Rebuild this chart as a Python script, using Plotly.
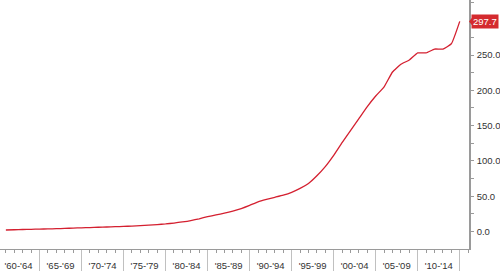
import plotly.graph_objects as go

years = list(range(1961, 2016))
values = [2.1, 2.5, 2.8, 3.1, 3.4, 3.7, 4.0, 4.4, 4.8, 5.2,
          5.6, 6.0, 6.4, 6.8, 7.2, 7.7, 8.3, 9.0, 9.8, 10.7,
          12.0, 13.6, 15.5, 18.0, 21.0, 23.5, 26.0, 29.0, 32.5, 37.0,
          42.0, 45.5, 48.5, 51.5, 55.5, 61.0, 68.0, 79.0, 92.0, 108.0,
          126.0, 143.0, 160.0, 177.0, 192.0, 205.0, 226.0, 237.0, 243.0, 253.0,
          253.0, 258.5, 258.5, 266.0, 297.7]

group_starts = list(range(1960, 2015, 5))
group_labels = ["'60-'64", "'65-'69", "'70-'74", "'75-'79", "'80-'84", "'85-'89",
                "'90-'94", "'95-'99", "'00-'04", "'05-'09", "'10-'14"]
y_ticks = [0, 50, 100, 150, 200, 250]

RED = "#d42030"
LABEL_RED = "#d42a2e"
GRAY = "#9a9a9a"
FONT = dict(family="Liberation Sans, Arial, sans-serif", size=9.5, color="#333333")

fig = go.Figure()
fig.add_trace(go.Scatter(x=years, y=values, mode="lines",
                         line=dict(color=RED, width=1.3, shape="spline", smoothing=0.4),
                         showlegend=False, hoverinfo="skip"))
# invisible trace to activate xaxis2 (group separators)
fig.add_trace(go.Scatter(x=[years[0]], y=[values[0]], xaxis="x2", mode="lines",
                         line=dict(width=0), showlegend=False, hoverinfo="skip"))

xr = [1960.3, 2016.1]
fig.update_layout(
    width=500, height=275,
    margin=dict(l=0, r=29, t=0, b=26),
    paper_bgcolor="white", plot_bgcolor="white",
    font=FONT,
    xaxis=dict(range=xr, showgrid=False, zeroline=False,
               showline=True, linecolor=GRAY, linewidth=1.2,
               tickmode="array", tickvals=[s + 2.5 for s in group_starts],
               ticktext=group_labels, ticks="", ticklabelstandoff=7,
               tickfont=FONT,
               minor=dict(ticks="outside", dtick=1, tick0=1960, ticklen=3,
                          tickcolor=GRAY, tickwidth=1, showgrid=False)),
    xaxis2=dict(range=xr, overlaying="x", side="bottom", anchor="y",
                showgrid=False, zeroline=False, showline=False,
                tickmode="array", tickvals=group_starts + [2015],
                showticklabels=False, ticks="outside", ticklen=21,
                tickcolor="#c0c0c0", tickwidth=1),
    yaxis=dict(range=[-24.8, 328], side="right", showgrid=False, zeroline=False,
               showline=True, linecolor=GRAY, linewidth=1.5,
               tickmode="array", tickvals=y_ticks, tickformat=".1f",
               ticks="outside", ticklen=3, tickcolor=GRAY, tickfont=FONT,
               ticklabelstandoff=1,
               minor=dict(ticks="outside", dtick=25, tick0=0, ticklen=3,
                          tickcolor=GRAY, showgrid=False)),
)

last = values[-1]
fig.add_annotation(x=1, xref="paper", y=last, yref="y", xanchor="left",
                   xshift=2, text=f"{last:.1f}", showarrow=False,
                   bgcolor=LABEL_RED, borderpad=1,
                   font=dict(family="Liberation Sans, Arial, sans-serif",
                             size=9.5, color="white"))
fig.add_shape(type="path", xref="paper", xsizemode="pixel", xanchor=1,
              yref="y", ysizemode="pixel", yanchor=last,
              path="M 0,0 L 4,5 L 4,-5 Z", fillcolor=LABEL_RED, line=dict(width=0))

fig.write_html("out.html")
